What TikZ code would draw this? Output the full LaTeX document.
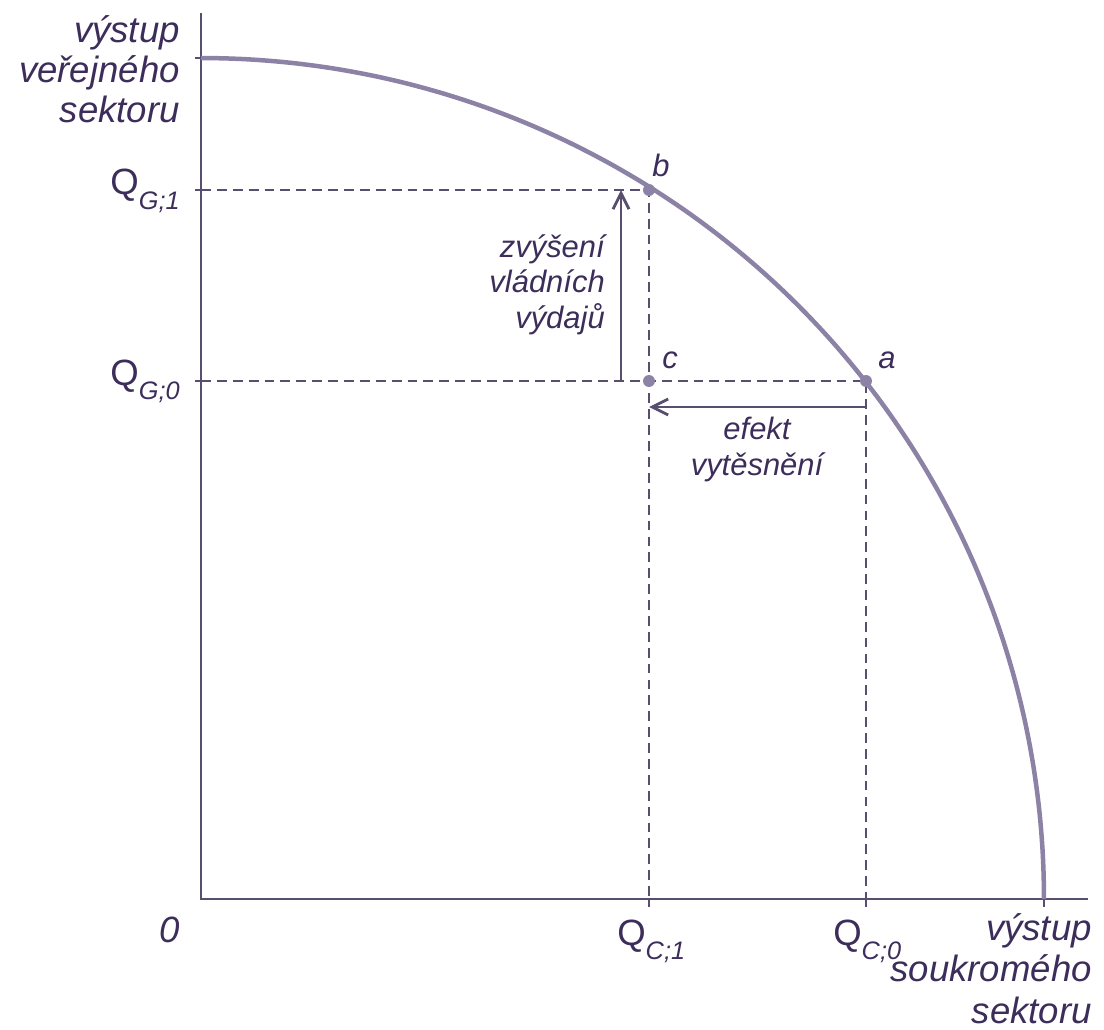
\documentclass[tikz,border=0pt]{standalone}
\usepackage{fontspec}
\setmainfont{Liberation Sans}
\usetikzlibrary{arrows.meta}
\definecolor{inkcol}{RGB}{60,45,90}
\definecolor{axiscol}{RGB}{88,78,112}
\definecolor{curvecol}{RGB}{140,130,165}
\newcommand{\qsub}[1]{\raisebox{-10.5pt}{\fontsize{18}{20}\selectfont\itshape #1}}

\begin{document}
\begin{tikzpicture}[x=0.025cm,y=-0.025cm,
  axis/.style={draw=axiscol,line width=2pt},
  frontier/.style={draw=curvecol,line width=3.2pt},
  guide/.style={draw=axiscol,line width=2pt,dash pattern=on 7pt off 4.3pt},
  shiftarr/.style={draw=axiscol,line width=2pt,-{Straight Barb[length=4mm,width=4mm]}},
  dot/.style={circle,fill=curvecol,inner sep=0pt,minimum size=8.5pt},
  lbl/.style={text=inkcol,font=\fontsize{26}{28.5}\selectfont\itshape,inner sep=0pt},
  note/.style={text=inkcol,font=\fontsize{22}{25}\selectfont\itshape,inner sep=0pt},
  qlbl/.style={text=inkcol,font=\fontsize{26}{28}\selectfont,inner sep=0pt}]
\useasboundingbox (0,0) rectangle (1104,1030);
% axes and their points
\coordinate (O) at (201,899);
\coordinate (ytop) at (201,13);
\coordinate (xend) at (1088,899);
\coordinate (gmax) at (201,58);
\coordinate (qg1) at (201,190);
\coordinate (qg0) at (201,381);
\coordinate (qc1) at (649,899);
\coordinate (qc0) at (866,899);
\coordinate (cmax) at (1044,899);
% guide lines
\draw[guide] (qg1) -- (649,190) -- (qc1);
\draw[guide] (qg0) -- (866,381) -- (qc0);
\draw[axis] (ytop) -- (O) -- (xend);
\foreach \p in {gmax,qg1,qg0} \draw[axis] (\p) -- ++(-6,0);
\foreach \p in {qc1,qc0,cmax} \draw[axis] (\p) -- ++(0,8);
% production possibility frontier
\draw[frontier] plot[smooth,domain=90:0,samples=60] ({201+843*cos(\x)},{899-841*sin(\x)});
\node[dot] (b) at (649,190) {};
\node[dot] (a) at (866,381) {};
\node[dot] (c) at (649,381) {};
\node[note,anchor=base west] (blbl) at (652,177) {b};
\node[note,anchor=base west] (albl) at (878,368) {a};
\node[note,anchor=base west] (clbl) at (662,368) {c};
% shifts
\coordinate (gbot) at (621,381);
\coordinate (gtop) at (621,190);
\coordinate (cright) at (866,407);
\coordinate (cleft) at (649,407);
\draw[shiftarr] (gbot) -- (gtop);
\draw[shiftarr] (cright) -- (cleft);
\node[note,align=right,anchor=base east] (gvt) at (605,328) {zvýšení\\vládních\\výdajů};
\node[note,align=center,anchor=base] (crowd) at (757,475) {efekt\\vytěsnění};
% axis labels
\node[lbl,align=right,anchor=base east] (gaxis) at (180,123) {výstup\\veřejného\\sektoru};
\node[lbl,align=right,anchor=base east,font=\fontsize{26}{29.5}\selectfont\itshape] (caxis) at (1092,1023) {výstup\\soukromého\\sektoru};
\node[qlbl,anchor=base east] (g1lbl) at (180,195) {Q\qsub{G;1}};
\node[qlbl,anchor=base east] (g0lbl) at (180,385) {Q\qsub{G;0}};
\node[lbl,anchor=base east] (olbl) at (180,942) {0};
\node[qlbl,anchor=base west] (c1lbl) at (617,945) {Q\qsub{C;1}};
\node[qlbl,anchor=base west] (c0lbl) at (833,945) {Q\qsub{C;0}};
\end{tikzpicture}
\end{document}
